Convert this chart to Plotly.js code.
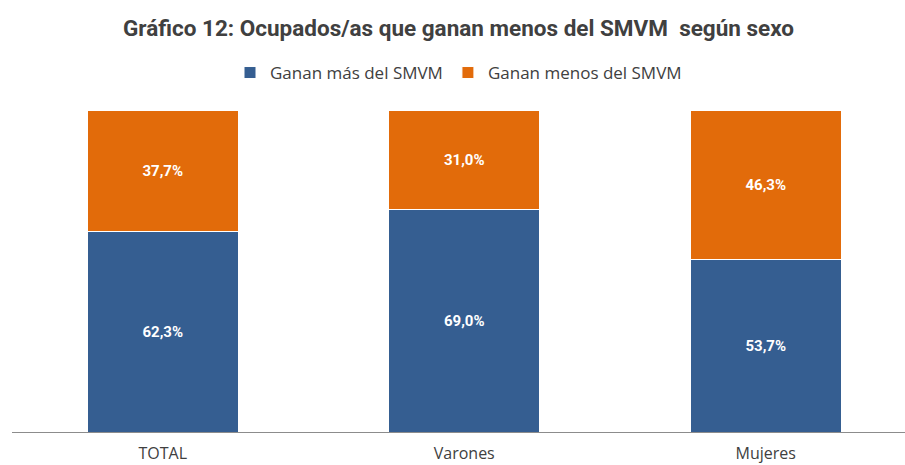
<!DOCTYPE html>
<html>
<head>
<meta charset="utf-8">
<script src="https://cdn.plot.ly/plotly-3.0.1.min.js"></script>
<style>html,body{margin:0;padding:0;background:#fff;overflow:hidden}</style>
</head>
<body>
<div id="chart" style="width:905px;height:465px"></div>
<script>
const categories = ["TOTAL", "Varones", "Mujeres"];
const ganaMas = [62.3, 69.0, 53.7];
const ganaMenos = [37.7, 31.0, 46.3];
const seriesNames = ["Ganan más del SMVM", "Ganan menos del SMVM"];

const pos = categories.map((c, i) => i);
const fmt = v => v.toFixed(1).replace(".", ",") + "%";

const traces = [
  {type: "bar", name: seriesNames[0], x: pos, y: ganaMas,
   marker: {color: "#355E91", line: {color: "#ffffff", width: 1}},
   text: ganaMas.map(fmt), textposition: "inside", insidetextanchor: "middle",
   textfont: {family: "Roboto", size: 15, color: "#ffffff", weight: "bold"},
   width: 0.5, hoverinfo: "skip"},
  {type: "bar", name: seriesNames[1], x: pos, y: ganaMenos,
   marker: {color: "#E26B0A", line: {color: "#ffffff", width: 1}},
   text: ganaMenos.map(fmt), textposition: "inside", insidetextanchor: "middle",
   textfont: {family: "Roboto", size: 15, color: "#ffffff", weight: "bold"},
   width: 0.5, hoverinfo: "skip"}
];

const layout = {
  width: 905, height: 465,
  margin: {l: 12, r: 0, t: 110, b: 33},
  paper_bgcolor: "#ffffff", plot_bgcolor: "#ffffff",
  barmode: "stack",
  title: {text: "<b>Gráfico 12: Ocupados/as que ganan menos del SMVM  según sexo</b>",
          x: 0.5, xanchor: "center", xref: "paper", y: 1 - 28 / 465, yref: "container", yanchor: "middle",
          font: {family: "Roboto", size: 22.5, color: "#404040"}},
  showlegend: true,
  legend: {orientation: "h", x: 0.5, xanchor: "center", y: 1.115, yanchor: "middle",
           font: {family: "Open Sans", size: 17, color: "#404040"},
           itemwidth: 30, traceorder: "normal"},
  xaxis: {range: [-0.5, 2.462], tickvals: pos, ticktext: categories,
          showline: true, linecolor: "#8c8c8c", linewidth: 1,
          showgrid: false, zeroline: false, ticks: "", ticklabelstandoff: 7,
          tickfont: {family: "Open Sans", size: 16, color: "#404040"}, fixedrange: true},
  yaxis: {range: [0, 100], visible: false, showgrid: false, zeroline: false, fixedrange: true}
};

Plotly.newPlot("chart", traces, layout, {displayModeBar: false, staticPlot: true});
</script>
</body>
</html>
